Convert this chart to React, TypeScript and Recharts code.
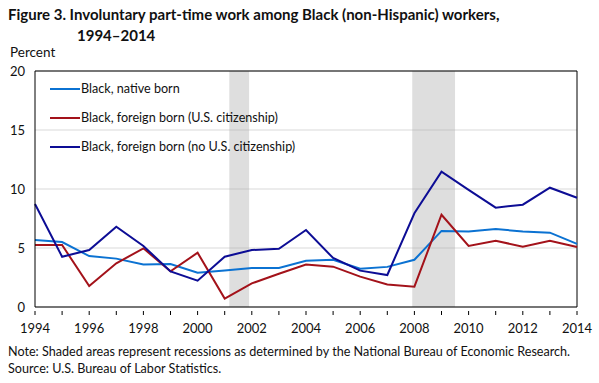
import React from 'react'
import {
  LineChart,
  Line,
  XAxis,
  YAxis,
  CartesianGrid,
  ReferenceArea,
  ReferenceLine,
} from 'recharts'

const years = [
  1994, 1995, 1996, 1997, 1998, 1999, 2000, 2001, 2002, 2003, 2004,
  2005, 2006, 2007, 2008, 2009, 2010, 2011, 2012, 2013, 2014,
]
const nativeBorn = [
  5.68, 5.5, 4.32, 4.1, 3.6, 3.65, 2.9, 3.1, 3.3, 3.3, 3.92,
  4.0, 3.25, 3.4, 4.0, 6.45, 6.4, 6.6, 6.4, 6.3, 5.35,
]
const foreignCitizen = [
  5.25, 5.25, 1.78, 3.7, 4.97, 3.02, 4.6, 0.71, 2.0, 2.82, 3.6,
  3.42, 2.57, 1.9, 1.72, 7.82, 5.17, 5.62, 5.11, 5.62, 5.08,
]
const foreignNonCitizen = [
  8.73, 4.26, 4.83, 6.8, 5.17, 3.02, 2.23, 4.26, 4.83, 4.94, 6.53,
  4.15, 3.08, 2.71, 7.94, 11.47, 9.92, 8.42, 8.67, 10.11, 9.26,
]
const yTicks = [0, 5, 10, 15, 20]
const recessions = [
  [2001.17, 2001.9],
  [2007.92, 2009.5],
]

const SERIES = [
  { key: 'native', label: 'Black, native born', color: '#0b72d2' },
  { key: 'citizen', label: 'Black, foreign born (U.S. citizenship)', color: '#a3121a' },
  { key: 'noncitizen', label: 'Black, foreign born (no U.S. citizenship)', color: '#0d0d95' },
]

const data = years.map((y, i) => ({
  year: y,
  native: nativeBorn[i],
  citizen: foreignCitizen[i],
  noncitizen: foreignNonCitizen[i],
}))

const FONT = 'Lato, "Noto Sans", sans-serif'

// every year gets a short inward tick, only even years get a label
const YearTick = (props: any) => {
  const { x, y, payload } = props
  const v = payload.value as number
  return (
    <g>
      <line x1={x} x2={x} y1={y - 4} y2={y} stroke="#000" strokeWidth={1} />
      {v % 2 === 0 && (
        <text x={x} y={y + 18} textAnchor="middle" fontSize={13} fill="#111" fontFamily={FONT}>
          {v}
        </text>
      )}
    </g>
  )
}

export default function App() {
  return (
    <div style={{ position: 'absolute', left: 0, top: 0, width: 599, height: 383, background: '#fff', fontFamily: FONT }}>
      <div style={{ position: 'absolute', left: 8, top: 4, fontWeight: 700, fontSize: 15, lineHeight: '21px', color: '#111' }}>
        Figure 3. Involuntary part-time work among Black (non-Hispanic) workers,
        <br />
        <span style={{ paddingLeft: 69 }}>1994–2014</span>
      </div>
      <div style={{ position: 'absolute', left: 10, top: 44, fontSize: 13.5, color: '#111' }}>Percent</div>
      <LineChart
        width={599}
        height={383}
        data={data}
        margin={{ top: 71, right: 22, bottom: 46, left: 0 }}
        style={{ position: 'absolute', left: 0, top: 0 }}
      >
        <CartesianGrid vertical={false} stroke="#d9d9d9" />
        <XAxis
          dataKey="year"
          type="number"
          domain={[1994, 2014]}
          ticks={years}
          interval={0}
          height={30}
          tick={<YearTick />}
          tickLine={false}
          axisLine={{ stroke: '#000' }}
        />
        <YAxis
          domain={[0, 20]}
          ticks={yTicks}
          width={35}
          tickLine={false}
          tickSize={0}
          tickMargin={10}
          axisLine={{ stroke: '#000' }}
          tick={{ fontSize: 13, fill: '#111', fontFamily: FONT }}
        />
        <ReferenceLine y={20} stroke="#000" />
        <ReferenceLine x={2014} stroke="#000" />
        {SERIES.map((s) => (
          <Line
            key={s.key}
            dataKey={s.key}
            name={s.label}
            stroke={s.color}
            strokeWidth={2}
            dot={false}
            isAnimationActive={false}
          />
        ))}
        {recessions.map(([a, b]) => (
          <ReferenceArea key={a} x1={a} x2={b} fill="#a9a9a9" fillOpacity={0.38} stroke="none" />
        ))}
      </LineChart>
      <div style={{ position: 'absolute', left: 50, top: 74, fontSize: 12.6, color: '#111' }}>
        {SERIES.map((s) => (
          <div key={s.key} style={{ display: 'flex', alignItems: 'center', height: 29 }}>
            <span style={{ display: 'inline-block', width: 30, height: 2, background: s.color, marginRight: 1 }} />
            <span>{s.label}</span>
          </div>
        ))}
      </div>
      <div style={{ position: 'absolute', left: 8, top: 343, fontSize: 12.6, lineHeight: '17px', color: '#111' }}>
        Note: Shaded areas represent recessions as determined by the National Bureau of Economic Research.
        <br />
        Source: U.S. Bureau of Labor Statistics.
      </div>
    </div>
  )
}
